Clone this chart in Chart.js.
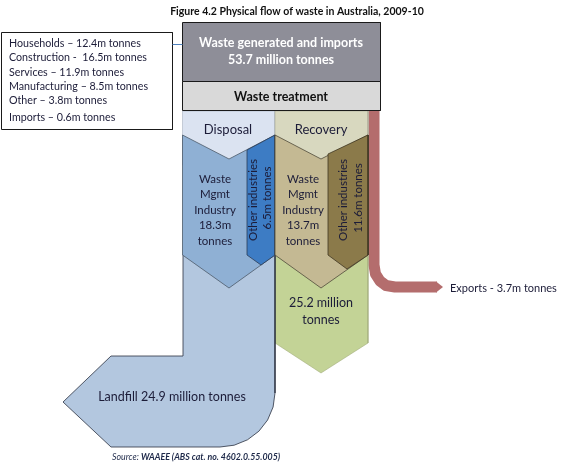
<!DOCTYPE html>
<html>
<head>
<meta charset="utf-8">
<script src="https://cdn.jsdelivr.net/npm/chart.js@4"></script>
<style>
  body { margin: 0; background: #fff; }
  canvas { display: block; }
</style>
</head>
<body>
<canvas id="flowChart" width="579" height="466"></canvas>
<script>
// waste generated by source, million tonnes
const sources = ['Households', 'Construction', 'Services', 'Manufacturing', 'Other', 'Imports'];
const sourceSep = [' – ', ' -  ', ' – ', ' – ', ' – ', ' – '];
const sourceTonnes = [12.4, 16.5, 11.9, 8.5, 3.8, 0.6];
const totalGenerated = 53.7;

// treatment: disposal / recovery
const paths = ['Disposal', 'Recovery'];
const wasteMgmtTonnes = [18.3, 13.7];
const otherIndTonnes = [6.5, 11.6];
const landfillTonnes = 24.9;
const recoveredTonnes = 25.2;
const exportTonnes = 3.7;

const FONT = 'Lato, "Liberation Sans", sans-serif';
const INK = '#1c1c38';

// shape outlines in page units, bottom layer first
const shapes = [
  { name: 'recovered', fill: '#c3d396', border: '#a3ad7c', width: 0.6,
    pts: [[275,255],[368,255],[368,343],[321,373],[275,343],[275,255]] },
  { name: 'landfill', fill: '#b3c7df', border: '#2b3140', width: 0.8,
    pts: [[183,255],[275,255],[275,393],[273.1,407],[267.6,420],[258.9,431.2],[247.5,439.8],
          [234.2,445.2],[220,447],[111,447],[63,402],[111,356],[183,356],[183,255]] },
  { name: 'disposalHead', fill: '#dbe3f1', border: '#a9b1c0', width: 0.6,
    pts: [[182.5,111],[275,111],[275,165],[182.5,165],[182.5,111]] },
  { name: 'recoveryHead', fill: '#d8d8bf', border: '#a9a996', width: 0.6,
    pts: [[275,111],[368,111],[368,165],[275,165],[275,111]] },
  { name: 'disposalMgmt', fill: '#8fb0d4', border: '#4d5a6a', width: 0.8,
    pts: [[182.5,135],[229,159],[275,135],[275,255],[229,288],[182.5,255],[182.5,135]] },
  { name: 'disposalOther', fill: '#3d7cc4', border: '#2c3c55', width: 0.8,
    pts: [[247,150],[275,135],[275,255],[261,265],[247,255],[247,150]] },
  { name: 'recoveryMgmt', fill: '#c4b993', border: '#4f4a3a', width: 0.8,
    pts: [[275,135],[321,159],[368,135],[368,255],[321,288],[275,255],[275,135]] },
  { name: 'recoveryOther', fill: '#8b7a4a', border: '#3f3622', width: 0.8,
    pts: [[328,154],[368,135],[368,255],[347,269],[328,255],[328,154]] },
  { name: 'generated', fill: '#8e8e98', border: '#1a1a1a', width: 1,
    pts: [[182.5,22.5],[380.5,22.5],[380.5,81.5],[182.5,81.5],[182.5,22.5]] },
  { name: 'treatment', fill: '#d9d9d9', border: '#1a1a1a', width: 1,
    pts: [[182.5,81.5],[380.5,81.5],[380.5,110.5],[182.5,110.5],[182.5,81.5]] },
  { name: 'sourceBox', fill: '#ffffff', border: '#1a1a1a', width: 1,
    pts: [[1.5,32.5],[172.5,32.5],[172.5,129.5],[1.5,129.5],[1.5,32.5]] }
];

// export pipe and its tip
const pipe = [[374,100],[374,265],[375.5,274],[380,281],[386,285.5],[395,287],[437,287]];
const pipeTip = [[436,281.5],[443,287],[436,292.5],[436,281.5]];
const connector = [[172.5,44.5],[182.5,44.5]];

const toXY = pts => pts.map(([x, y]) => ({ x, y }));

const datasets = [];
datasets.push({
  data: toXY(pipe), borderColor: '#b46d6d', borderWidth: 11, fill: false,
  borderJoinStyle: 'round', pointRadius: 0, tension: 0, clip: false
});
datasets.push({
  data: toXY(pipeTip), borderColor: '#b46d6d', borderWidth: 0, backgroundColor: '#b46d6d',
  fill: 'shape', pointRadius: 0, tension: 0, clip: false
});
shapes.forEach(s => {
  datasets.push({
    label: s.name, data: toXY(s.pts), backgroundColor: s.fill, borderColor: s.border,
    borderWidth: s.width, fill: 'shape', pointRadius: 0, tension: 0, clip: false
  });
});
datasets.push({
  data: toXY(connector), borderColor: '#4f81bd', borderWidth: 1, fill: false,
  pointRadius: 0, tension: 0, clip: false
});
// later in the list = drawn on top
datasets.forEach((d, i) => { d.order = datasets.length - i; });

const labelPlugin = {
  id: 'flowLabels',
  afterDatasetsDraw(chart) {
    const { ctx, scales: { x, y } } = chart;
    const put = (text, px, py, font, color, align = 'center', rot = 0) => {
      ctx.save();
      ctx.translate(x.getPixelForValue(px), y.getPixelForValue(py));
      if (rot) ctx.rotate(rot);
      ctx.font = font;
      ctx.fillStyle = color;
      ctx.textAlign = align;
      ctx.textBaseline = 'middle';
      ctx.fillText(text, 0, 0);
      ctx.restore();
    };

    put('Figure 4.2 Physical flow of waste in Australia, 2009-10', 297, 12, 'bold 10.5px ' + FONT, '#111');

    const rows = [44, 58, 73, 87, 101, 118];
    sources.forEach((s, i) => {
      put(s + sourceSep[i] + sourceTonnes[i].toFixed(1) + 'm tonnes', 9, rows[i], '10.7px ' + FONT, INK, 'left');
    });

    put('Waste generated and imports', 281, 43, 'bold 12.5px ' + FONT, '#fff');
    put(totalGenerated + ' million tonnes', 281, 60, 'bold 12.5px ' + FONT, '#fff');
    put('Waste treatment', 281, 97, 'bold 12.5px ' + FONT, '#111');

    const headX = [228, 321];
    const mgmtX = [215, 303];
    const otherX = [[253, 267], [343, 358]];
    paths.forEach((p, i) => {
      put(p, headX[i], 130, '13px ' + FONT, INK);
      ['Waste', 'Mgmt', 'Industry', wasteMgmtTonnes[i] + 'm', 'tonnes'].forEach((t, k) => {
        put(t, mgmtX[i], 179 + k * 15.5, '11.5px ' + FONT, INK);
      });
      put('Other industries', otherX[i][0], 200, '11.5px ' + FONT, INK, 'center', -Math.PI / 2);
      put(otherIndTonnes[i] + 'm tonnes', otherX[i][1], 198, '11.5px ' + FONT, INK, 'center', -Math.PI / 2);
    });

    put(recoveredTonnes + ' million', 321, 303, '12.5px ' + FONT, INK);
    put('tonnes', 321, 320, '12.5px ' + FONT, INK);
    put('Landfill ' + landfillTonnes + ' million tonnes', 172, 397, '12.5px ' + FONT, INK);
    put('Exports - ' + exportTonnes + 'm tonnes', 450, 288, '11px ' + FONT, INK, 'left');

    // source note
    ctx.save();
    ctx.textBaseline = 'middle';
    ctx.fillStyle = '#1f2a4a';
    let sx = x.getPixelForValue(112);
    const sy = y.getPixelForValue(457);
    ctx.font = 'italic 8.8px ' + FONT;
    ctx.fillText('Source:', sx, sy);
    sx += ctx.measureText('Source: ').width;
    ctx.font = 'italic bold 8.8px ' + FONT;
    ctx.fillText('WAAEE (ABS cat. no. 4602.0.55.005)', sx, sy);
    ctx.restore();
  }
};

new Chart(document.getElementById('flowChart'), {
  type: 'line',
  data: { datasets },
  options: {
    responsive: false,
    animation: false,
    devicePixelRatio: 1,
    events: [],
    layout: { padding: 0 },
    plugins: { legend: { display: false }, tooltip: { enabled: false } },
    scales: {
      x: { type: 'linear', min: 0, max: 579, display: false },
      y: { type: 'linear', min: 0, max: 466, reverse: true, display: false }
    }
  },
  plugins: [labelPlugin]
});
</script>
</body>
</html>
